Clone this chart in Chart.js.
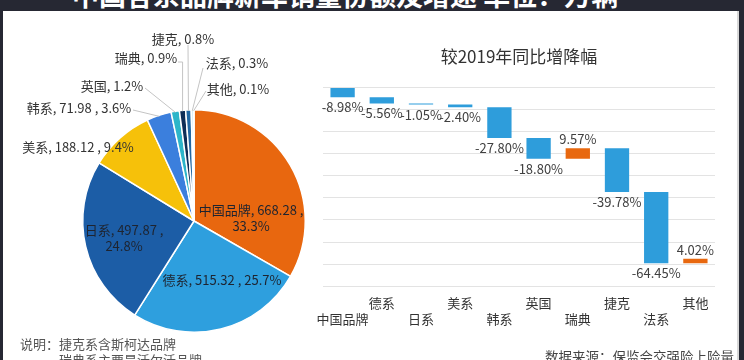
<!DOCTYPE html>
<html>
<head>
<meta charset="utf-8">
<script src="https://cdn.jsdelivr.net/npm/chart.js@4"></script>
<style>
  body { margin:0; width:744px; height:360px; overflow:hidden; position:relative; background:#262833;
         font-family:"Noto Sans CJK SC","Noto Sans",sans-serif; }
  #title { position:absolute; left:72px; top:-19px; font-size:27px; line-height:27px; font-weight:bold; color:#fff; white-space:nowrap; }
  #panel { position:absolute; left:3px; top:11px; width:734px; height:360px; background:#fff; border-right:2px solid #d8d8d8; }
  canvas { position:absolute; }
  .note { position:absolute; font-size:13px; color:#555; white-space:nowrap; }
</style>
</head>
<body>
<div id="title">中国各系品牌新车销量份额及增速  单位：万辆</div>
<div id="panel"></div>
<canvas id="pie" width="320" height="360" style="left:0;top:0"></canvas>
<canvas id="bar" width="444" height="300" style="left:300px;top:44px"></canvas>
<div class="note" style="left:20px;top:334px">说明：捷克系含斯柯达品牌</div>
<div class="note" style="left:59px;top:350px">瑞典系主要是沃尔沃品牌</div>
<div class="note" style="left:545px;top:346px;font-size:13.5px;color:#444">数据来源：保监会交强险上险量</div>
<script>
// 系别（饼图与柱状图共用）
const categories = ["中国品牌", "德系", "日系", "美系", "韩系", "英国", "瑞典", "捷克", "法系", "其他"];
// 销量（万辆），小份额系别按占比估算
const sales = [668.28, 515.32, 497.87, 188.12, 71.98, 24.1, 18.1, 16.1, 6.0, 2.0];
const shares = [33.3, 25.7, 24.8, 9.4, 3.6, 1.2, 0.9, 0.8, 0.3, 0.1];
// 较2019年同比增降幅（%）
const yoyChange = [-8.98, -5.56, -1.05, -2.40, -27.80, -18.80, 9.57, -39.78, -64.45, 4.02];

const sliceColors = ["#E8670F", "#2E9FDE", "#1C5DA6", "#F6C10A", "#3B7FDD", "#2CB5C9", "#0E2E57", "#2168A3", "#8CCBEA", "#F0A060"];

// 标签相对饼心的位置（像素），lead为引导线起点
const pieLabelLayout = [
  { dx: 57, dy: -11, lines: 2, val: true },
  { dx: 28, dy: 59, lines: 1, val: true },
  { dx: -70, dy: 9, lines: 2, val: true },
  { dx: -116, dy: -74, lines: 1, val: true },
  { dx: -115, dy: -113, lines: 1, val: true, lead: [-61, -111] },
  { dx: -82, dy: -135, lines: 1, lead: [-49, -133] },
  { dx: -48, dy: -163, lines: 1, lead: [-16, -159], elbow: true },
  { dx: -11, dy: -182, lines: 1, lead: [-6, -176] },
  { dx: 43, dy: -158, lines: 1, lead: [9, -153] },
  { dx: 44, dy: -132, lines: 1, lead: [12, -130] }
];

const pieLabels = {
  id: "pieLabels",
  afterDatasetsDraw(chart) {
    const ctx = chart.ctx;
    const meta = chart.getDatasetMeta(0);
    ctx.save();
    ctx.font = "13px 'Noto Sans CJK SC'";
    ctx.textAlign = "center";
    ctx.textBaseline = "middle";
    meta.data.forEach((arc, i) => {
      const p = arc.getProps(["x", "y", "outerRadius", "startAngle", "endAngle"], true);
      const L = pieLabelLayout[i];
      const mid = (p.startAngle + p.endAngle) / 2;
      if (L.lead) {
        const ex = p.x + Math.cos(mid) * (p.outerRadius - 1);
        const ey = p.y + Math.sin(mid) * (p.outerRadius - 1);
        const sx = p.x + L.lead[0], sy = p.y + L.lead[1];
        ctx.strokeStyle = "#c4c4c4";
        ctx.lineWidth = 1;
        ctx.beginPath();
        ctx.moveTo(sx, sy);
        if (L.elbow) ctx.lineTo(ex, sy);
        ctx.lineTo(ex, ey);
        ctx.stroke();
      }
      ctx.fillStyle = i < 3 ? "#1e2430" : "#333";
      const name = categories[i], pct = shares[i].toFixed(1) + "%";
      const cx = p.x + L.dx, cy = p.y + L.dy;
      if (!L.val) {
        ctx.fillText(name + ", " + pct, cx, cy);
      } else if (L.lines === 2) {
        ctx.fillText(name + ", " + sales[i].toFixed(2) + " ,", cx, cy);
        ctx.fillText(pct, cx, cy + 16);
      } else {
        ctx.fillText(name + ", " + sales[i].toFixed(2) + " , " + pct, cx, cy);
      }
    });
    ctx.restore();
  }
};

new Chart(document.getElementById("pie"), {
  type: "pie",
  data: {
    labels: categories,
    datasets: [{ data: sales, backgroundColor: sliceColors, borderColor: "#fff", borderWidth: 1.5 }]
  },
  options: {
    responsive: false,
    animation: false,
    layout: { padding: { left: 82, top: 109, right: 14, bottom: 27 } },
    plugins: { legend: { display: false }, tooltip: { enabled: false } }
  },
  plugins: [pieLabels]
});

// 瀑布图：累计起止
let running = 0;
const steps = yoyChange.map(v => { const s = running; running += v; return [s, running]; });
const tickLabels = categories.map((c, i) => i % 2 === 0 ? ["", c] : [c, ""]);

const barLabels = {
  id: "barLabels",
  afterDatasetsDraw(chart) {
    const ctx = chart.ctx;
    const meta = chart.getDatasetMeta(0);
    ctx.save();
    ctx.font = "13px 'Noto Sans CJK SC'";
    ctx.fillStyle = "#404040";
    ctx.textAlign = "center";
    ctx.textBaseline = "middle";
    meta.data.forEach((bar, i) => {
      const v = yoyChange[i];
      const lo = Math.max(bar.y, bar.base), hi = Math.min(bar.y, bar.base);
      const y = v < 0 ? lo + 10 : hi - 9;
      ctx.fillText(v.toFixed(2) + "%", bar.x, y);
    });
    ctx.restore();
  }
};

new Chart(document.getElementById("bar"), {
  type: "bar",
  data: {
    labels: tickLabels,
    datasets: [{
      data: steps,
      backgroundColor: yoyChange.map(v => v < 0 ? "#2E9DDB" : "#E8680F"),
      barPercentage: 1,
      categoryPercentage: 0.62
    }]
  },
  options: {
    responsive: false,
    animation: false,
    layout: { padding: { left: 23, right: 29, bottom: 8 } },
    scales: {
      x: {
        grid: { display: false, drawTicks: false },
        border: { display: false },
        ticks: { autoSkip: false, maxRotation: 0, padding: 8, color: "#333",
                 font: { family: "Noto Sans CJK SC", size: 13, lineHeight: 1.3 } }
      },
      y: {
        min: -180, max: 0,
        ticks: { display: false, stepSize: 20 },
        grid: { color: "#e3e3e3", drawTicks: false },
        border: { display: false }
      }
    },
    plugins: {
      legend: { display: false },
      tooltip: { enabled: false },
      title: { display: true, text: "较2019年同比增降幅", color: "#333",
               font: { family: "Noto Sans CJK SC", size: 17, weight: "normal" },
               padding: { top: 2, bottom: 21 } }
    }
  },
  plugins: [barLabels]
});
</script>
</body>
</html>
